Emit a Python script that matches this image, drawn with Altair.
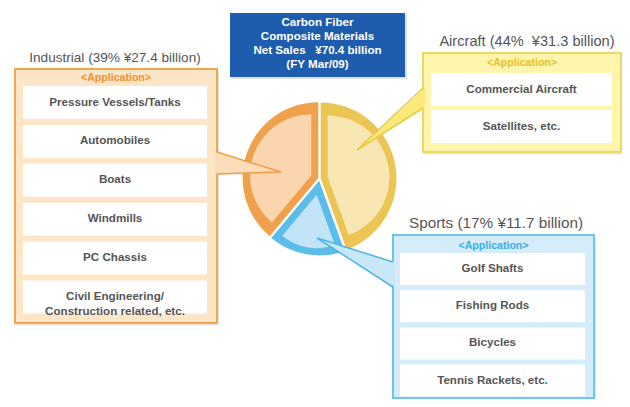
import altair as alt
import pandas as pd

# ---------------- data ----------------
segments = ["Aircraft", "Sports", "Industrial"]          # clockwise from 12 o'clock
shares = [44, 17, 39]                                     # %
sales = [31.3, 11.7, 27.4]                                # ¥ billion
industrial_apps = ["Pressure Vessels/Tanks", "Automobiles", "Boats", "Windmills",
                   "PC Chassis", "Civil Engineering/\nConstruction related, etc."]
aircraft_apps = ["Commercial Aircraft", "Satellites, etc."]
sports_apps = ["Golf Shafts", "Fishing Rods", "Bicycles", "Tennis Rackets, etc."]
title_lines = ["Carbon Fiber", "Composite Materials",
               "Net Sales\u00a0\u00a0\u00a0\u00a570.4 billion", "(FY Mar/09)"]
app_header = "<Application>"

# ---------------- styles ----------------
dark = {"Aircraft": "#EBC655", "Sports": "#5CBDEA", "Industrial": "#F0A14E"}
light = {"Aircraft": "#F8E6B3", "Sports": "#C3E4F7", "Industrial": "#FAD5AE"}
box_fill = {"Aircraft": "#FFF5AC", "Sports": "#D5EDFA", "Industrial": "#FDE5C8"}
box_edge = {"Aircraft": "#EED765", "Sports": "#6FC5EE", "Industrial": "#F1A652"}
ptr_fill = {"Aircraft": "#FBE97C", "Sports": "#C8E8F8", "Industrial": "#FBDDB9"}
ptr_edge = {"Aircraft": "#E9CA45", "Sports": "#4DB4E4", "Industrial": "#EE9D45"}
app_col = {"Aircraft": "#E9BE2A", "Sports": "#39ADE6", "Industrial": "#F0902E"}
label_size = {"Aircraft": 14.6, "Sports": 15.3, "Industrial": 13.6}
label_gap = {"Aircraft": "\u00a0 ", "Sports": " ", "Industrial": " "}
FONT = "Liberation Sans"
GREY = "#555555"

# ---------------- layout (image pixel coordinates) ----------------
layout = {
    "Industrial": dict(box=(15, 217, 69, 323), label=(115, 58), app_y=78, rows_x=(23, 207),
                       row_top=86, row_pitch=38.9, row_h=33, apps=industrial_apps,
                       ptr=((215, 217, 152, 174), (281, 172))),
    "Aircraft": dict(box=(423, 621, 53, 152), label=(527, 42), app_y=63, rows_x=(431, 612),
                     row_top=73, row_pitch=37, row_h=33, apps=aircraft_apps,
                     ptr=((425, 423, 88, 108), (357, 150))),
    "Sports": dict(box=(393, 594, 235, 398), label=(496, 223), app_y=246, rows_x=(400, 585),
                   row_top=253, row_pitch=37.2, row_h=32, apps=sports_apps,
                   ptr=((395, 393, 262, 287), (317, 238))),
}
CX, CY, R = 319.5, 178.5, 77  # pie centre / radius
GAP, BAND = 1.2, 7            # half white gap between slices, border band width
TITLE_BOX = (230, 405, 13, 77)

W, H = 614, 391
xs = alt.Scale(domain=[8, 8 + W], nice=False, zero=False)
ys = alt.Scale(domain=[8, 8 + H], nice=False, zero=False, reverse=True)


def X(f):
    return alt.X(f, type="quantitative", scale=xs, axis=None)


def Y(f):
    return alt.Y(f, type="quantitative", scale=ys, axis=None)


def cscale(d):
    return alt.Scale(domain=segments, range=[d[s] for s in segments])


# ---------------- tables ----------------
pie_df = pd.DataFrame({"seg": segments, "sales": sales, "order": range(len(segments))})

box_rows, row_rows, lab_rows, ptr_area, ptr_lines = [], [], [], [], []
for seg, share, sale in zip(segments, shares, sales):
    L = layout[seg]
    x0, x1, y0, y1 = L["box"]
    box_rows.append(dict(seg=seg, x0=x0, x1=x1, y0=y0, y1=y1))
    lab_rows.append(dict(seg=seg, x=L["label"][0], y=L["label"][1],
                         text=f"{seg} ({share}%{label_gap[seg]}\u00a5{sale} billion)",
                         ax=(x0 + x1) / 2, ay=L["app_y"], app=app_header))
    for i, a in enumerate(L["apps"]):
        t = L["row_top"] + i * L["row_pitch"]
        row_rows.append(dict(seg=seg, x0=L["rows_x"][0], x1=L["rows_x"][1], y0=t,
                             y1=t + L["row_h"], tx=(L["rows_x"][0] + L["rows_x"][1]) / 2,
                             ty=t + L["row_h"] / 2, text=a))
    (bx_fill, bx_edge, by0, by1), (tx, ty) = L["ptr"]
    ptr_area.append(dict(seg=seg, x=bx_fill, y=by0, y2=by1))
    ptr_area.append(dict(seg=seg, x=tx, y=ty, y2=ty))
    for k, by in enumerate((by0, by1)):
        ptr_lines.append(dict(seg=seg, edge=f"{seg}{k}", o=0, x=bx_edge, y=by))
        ptr_lines.append(dict(seg=seg, edge=f"{seg}{k}", o=1, x=tx, y=ty))

box_df = pd.DataFrame(box_rows)
row_df = pd.DataFrame(row_rows)
lab_df = pd.DataFrame(lab_rows)
ptr_area_df = pd.DataFrame(ptr_area)
ptr_line_df = pd.DataFrame(ptr_lines)
title_df = pd.DataFrame({"text": title_lines, "i": range(len(title_lines))})
tb = TITLE_BOX
title_box_df = pd.DataFrame([dict(x0=tb[0], x1=tb[1], y0=tb[2], y1=tb[3])])

# ---------------- layers ----------------
shadow = alt.Chart(box_df).mark_rect(color="#000000", opacity=0.10).encode(
    x=X("sx0:Q"), x2="sx1:Q", y=Y("sy0:Q"), y2="sy1:Q"
).transform_calculate(sx0="datum.x0+1", sx1="datum.x1+2", sy0="datum.y0+2", sy1="datum.y1+2.5")

boxes = alt.Chart(box_df).mark_rect(strokeWidth=2).encode(
    x=X("x0:Q"), x2="x1:Q", y=Y("y0:Q"), y2="y1:Q",
    fill=alt.Fill("seg:N", scale=cscale(box_fill), legend=None),
    stroke=alt.Stroke("seg:N", scale=cscale(box_edge), legend=None),
)

rows = alt.Chart(row_df).mark_rect(color="white").encode(
    x=X("x0:Q"), x2="x1:Q", y=Y("y0:Q"), y2="y1:Q")

row_text = alt.Chart(row_df).mark_text(font=FONT, fontSize=11.6, fontWeight="bold", color=GREY,
                                       lineBreak="\n", lineHeight=15, baseline="middle").encode(
    x=X("tx:Q"), y=Y("ty:Q"), text="text:N")

label_layers = [
    alt.Chart(lab_df).transform_filter(alt.datum.seg == seg).mark_text(
        font=FONT, fontSize=label_size[seg], color=GREY, baseline="middle"
    ).encode(x=X("x:Q"), y=Y("y:Q"), text="text:N")
    for seg in segments
]

apps = alt.Chart(lab_df).mark_text(font=FONT, fontSize=10.6, fontWeight="bold", baseline="middle").encode(
    x=X("ax:Q"), y=Y("ay:Q"), text="app:N",
    color=alt.Color("seg:N", scale=cscale(app_col), legend=None))

pie_base = alt.Chart(pie_df).transform_window(
    cum="sum(sales)", sort=[alt.SortField("order")], frame=[None, 0]
).transform_joinaggregate(total="sum(sales)").transform_calculate(
    start="2*PI*(datum.cum-datum.sales)/datum.total",
    end="2*PI*datum.cum/datum.total",
).transform_calculate(
    mid="(datum.start+datum.end)/2",
    half="(datum.end-datum.start)/2",
)


def pie_layer(inset, colors):
    return pie_base.transform_calculate(
        s=f"{GAP + inset}/sin(datum.half)"
    ).transform_calculate(
        cx=f"{CX}+datum.s*sin(datum.mid)", cy=f"{CY}-datum.s*cos(datum.mid)",
        r=f"{R - inset}-datum.s"
    ).mark_arc().encode(
        x=X("cx:Q"), y=Y("cy:Q"),
        theta=alt.Theta("start:Q", scale=None, stack=False), theta2="end:Q",
        radius=alt.Radius("r:Q", scale=None),
        color=alt.Color("seg:N", scale=cscale(colors), legend=None),
    )


pie_dark = pie_layer(0, dark)
pie_light = pie_layer(BAND, light)

ptr_fill_layer = alt.Chart(ptr_area_df).mark_area().encode(
    x=X("x:Q"), y=Y("y:Q"), y2="y2:Q",
    color=alt.Color("seg:N", scale=cscale(ptr_fill), legend=None))

ptr_edge_layer = alt.Chart(ptr_line_df).mark_line(strokeWidth=1.5).encode(
    x=X("x:Q"), y=Y("y:Q"), detail="edge:N", order="o:Q",
    color=alt.Color("seg:N", scale=cscale(ptr_edge), legend=None))

title_shadow = alt.Chart(title_box_df).mark_rect(color="#000000", opacity=0.12).encode(
    x=X("sx0:Q"), x2="sx1:Q", y=Y("sy0:Q"), y2="sy1:Q"
).transform_calculate(sx0="datum.x0+1", sx1="datum.x1+2", sy0="datum.y0+2", sy1="datum.y1+2")

title_box = alt.Chart(title_box_df).mark_rect(color="#1E5CAE").encode(
    x=X("x0:Q"), x2="x1:Q", y=Y("y0:Q"), y2="y1:Q")

title_text = alt.Chart(title_df).transform_calculate(
    tx=f"{(tb[0] + tb[1]) / 2}", ty=f"{tb[2] + 10}+datum.i*14"
).mark_text(font=FONT, fontSize=11.6, fontWeight="bold", color="white", baseline="middle").encode(
    x=X("tx:Q"), y=Y("ty:Q"), text="text:N")

chart = alt.layer(
    title_shadow, title_box, title_text,
    shadow, boxes, rows, row_text, *label_layers, apps,
    pie_dark, pie_light, ptr_fill_layer, ptr_edge_layer,
).resolve_scale(
    color="independent", fill="independent", stroke="independent"
).properties(
    width=W, height=H, padding=0, autosize="none", background="white"
).configure_view(stroke=None)

chart.save("out.html", embed_options={"renderer": "svg", "actions": False})
